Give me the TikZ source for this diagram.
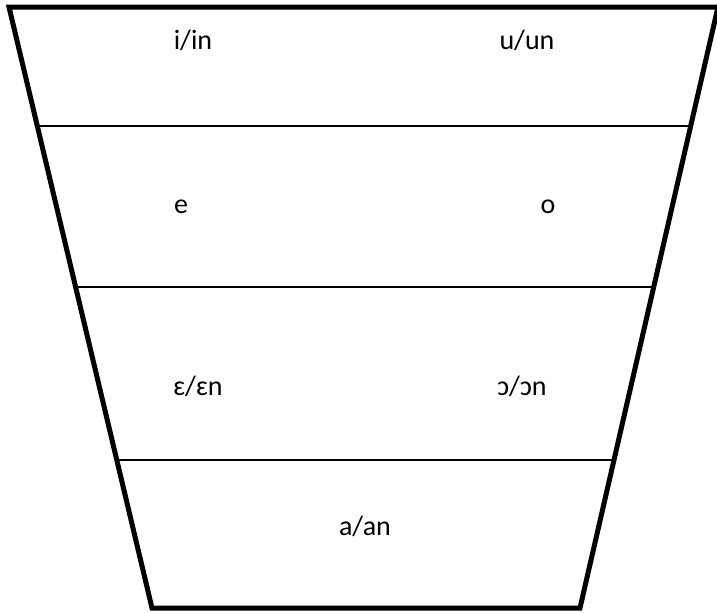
\documentclass[tikz,border=0pt]{standalone}
\usepackage{fontspec}
\setmainfont{Carlito}
\usetikzlibrary{calc}

\begin{document}
\begin{tikzpicture}[
    x=0.75pt, y=-0.75pt,
    outline/.style={line width=3.75pt, line join=miter},
    band/.style={line width=1.5pt},
    vowel/.style={anchor=base, inner sep=0pt, font=\fontsize{21}{25}\selectfont}
]
\useasboundingbox (0,0) rectangle (717,612);

% corners of the funnel
\coordinate (tl) at (9,7);
\coordinate (tr) at (718,7);
\coordinate (br) at (580,608);
\coordinate (bl) at (152,608);

% outline
\draw[outline] (tl) -- (tr) -- (br) -- (bl) -- cycle;

% dividing lines
\draw[band] ($(tl)!0.198!(bl)$) -- ($(tr)!0.198!(br)$);
\draw[band] ($(tl)!0.466!(bl)$) -- ($(tr)!0.466!(br)$);
\draw[band] ($(tl)!0.754!(bl)$) -- ($(tr)!0.754!(br)$);

% vowels
\node[vowel] (ii) at (193,49) {i/in};
\node[vowel] (uu) at (527,49) {u/un};
\node[vowel] (ee) at (181,213) {e};
\node[vowel] (oo) at (548,213) {o};
\node[vowel] (eo) at (198,395) {ɛ/ɛn};
\node[vowel] (oc) at (522,395) {ɔ/ɔn};
\node[vowel] (aa) at (365,535) {a/an};

\end{tikzpicture}
\end{document}
